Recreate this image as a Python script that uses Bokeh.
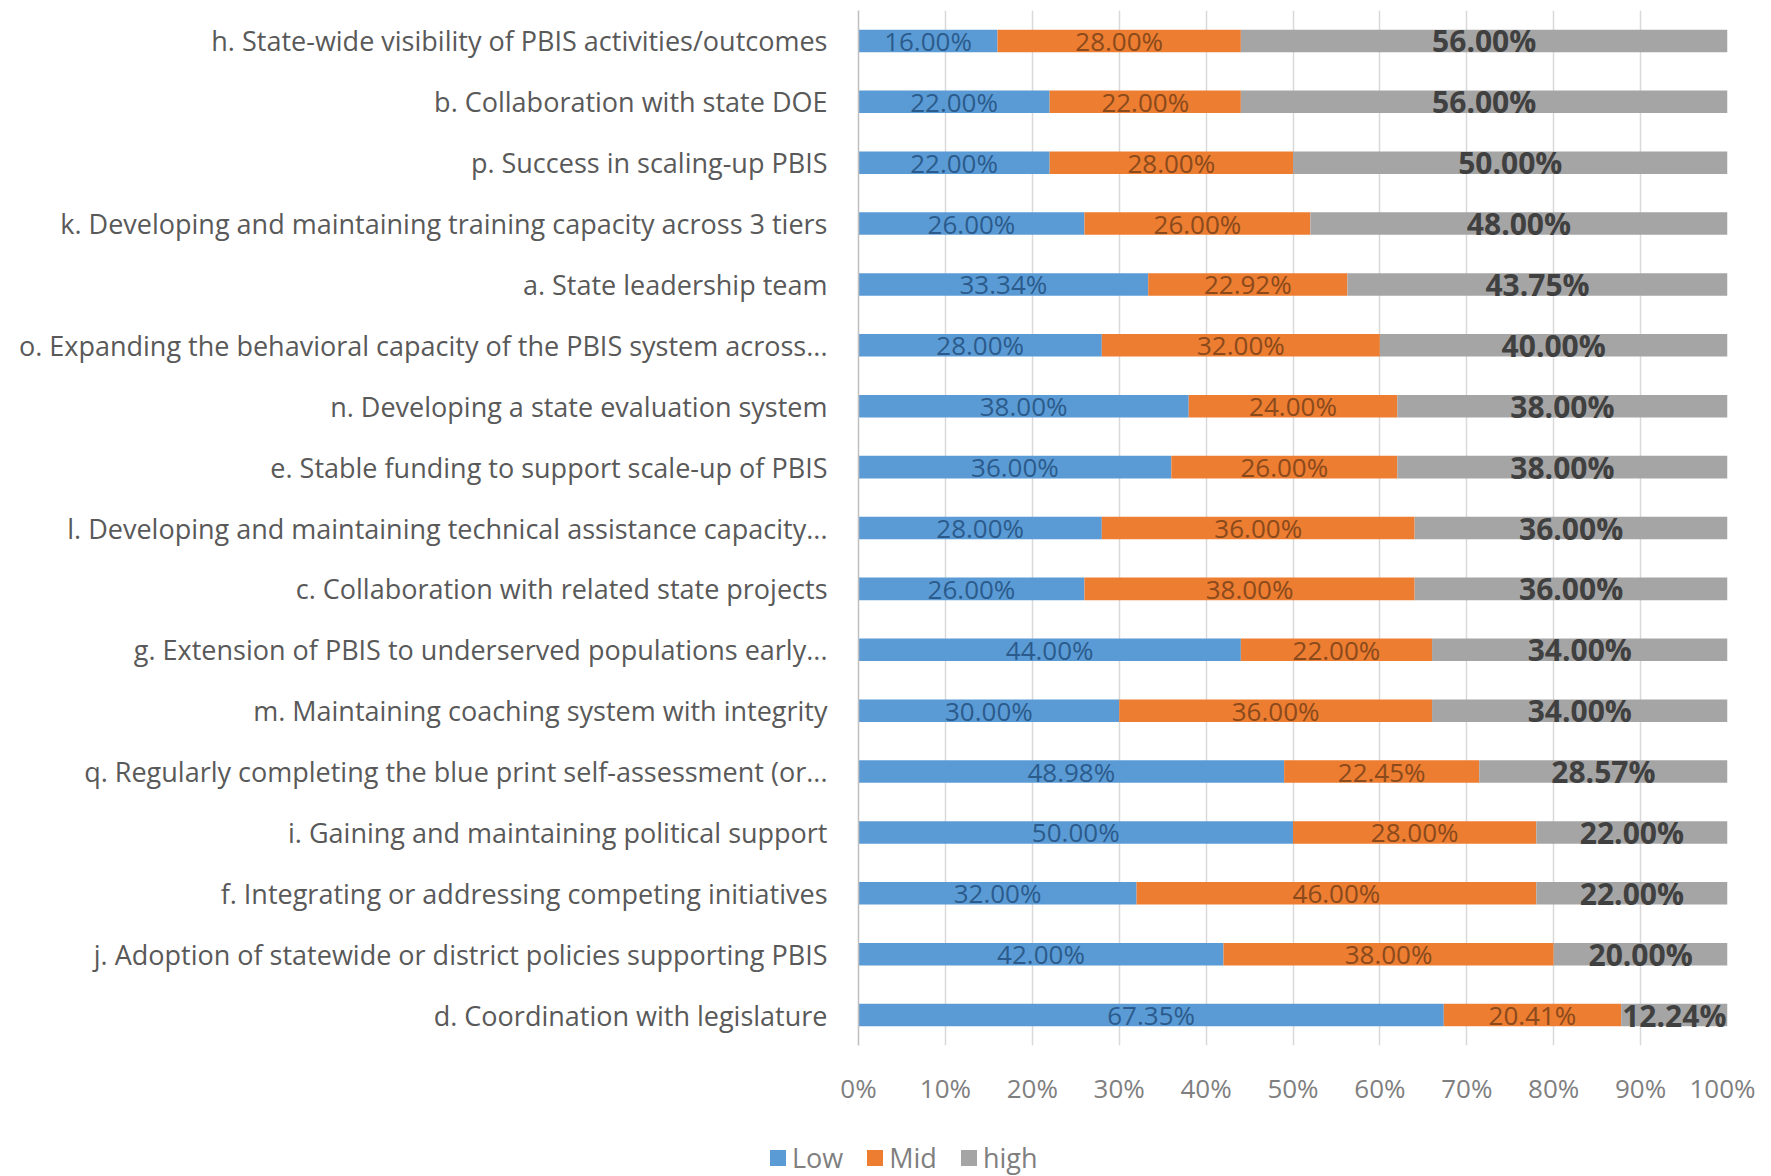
from bokeh.plotting import figure
from bokeh.layouts import column
from bokeh.models import ColumnDataSource, FactorRange, FixedTicker, Div
from bokeh.core.properties import value
from bokeh.embed import file_html
from bokeh.resources import INLINE

categories = [
    "h. State-wide visibility of PBIS activities/outcomes",
    "b. Collaboration with state DOE",
    "p. Success in scaling-up PBIS",
    "k. Developing and maintaining training capacity across 3 tiers",
    "a. State leadership team",
    "o. Expanding the behavioral capacity of the PBIS system across...",
    "n. Developing a state evaluation system",
    "e. Stable funding to support scale-up of PBIS",
    "l. Developing and maintaining technical assistance capacity...",
    "c. Collaboration with related state projects",
    "g. Extension of PBIS to underserved populations early...",
    "m. Maintaining coaching system with integrity",
    "q. Regularly completing the blue print self-assessment (or...",
    "i. Gaining and maintaining political support",
    "f. Integrating or addressing competing initiatives",
    "j. Adoption of statewide or district policies supporting PBIS",
    "d. Coordination with legislature",
]
low = [16.00, 22.00, 22.00, 26.00, 33.34, 28.00, 38.00, 36.00, 28.00, 26.00, 44.00, 30.00, 48.98, 50.00, 32.00, 42.00, 67.35]
mid = [28.00, 22.00, 28.00, 26.00, 22.92, 32.00, 24.00, 26.00, 36.00, 38.00, 22.00, 36.00, 22.45, 28.00, 46.00, 38.00, 20.41]
high = [56.00, 56.00, 50.00, 48.00, 43.75, 40.00, 38.00, 38.00, 36.00, 36.00, 34.00, 34.00, 28.57, 22.00, 22.00, 20.00, 12.24]
series = ["Low", "Mid", "high"]
x_ticks = [0, 10, 20, 30, 40, 50, 60, 70, 80, 90, 100]
x_tick_labels = ["0%", "10%", "20%", "30%", "40%", "50%", "60%", "70%", "80%", "90%", "100%"]

colors = ["#5b9bd5", "#ed7d31", "#a5a5a5"]
FONT = "Open Sans"

W = 1755
FRAME_LEFT = 858
p = figure(
    width=W, height=1108, output_backend="svg", toolbar_location=None,
    y_range=FactorRange(*reversed(categories), range_padding=0),
    x_range=(0, 100),
    min_border_left=FRAME_LEFT, min_border_right=W - 1727, min_border_top=10, min_border_bottom=58,
)
p.outline_line_color = None

src = ColumnDataSource(dict(cat=categories, Low=low, Mid=mid, high=high))
rends = p.hbar_stack(series, y="cat", height=0.37, color=colors, source=src, line_color=None)

# data labels at segment centres
l1 = list(low)
l2 = [a + b for a, b in zip(low, mid)]
cx_low = [v / 2 for v in low]
cx_mid = [s + v / 2 for s, v in zip(l1, mid)]
cx_high = [s + v / 2 for s, v in zip(l2, high)]
lab = lambda vals: ["%.2f%%" % v for v in vals]
lsrc = ColumnDataSource(dict(cat=categories, xl=cx_low, xm=cx_mid, xh=cx_high,
                             tl=lab(low), tm=lab(mid), th=lab(high)))
p.text(x="xl", y="cat", text="tl", source=lsrc, text_align="center", text_baseline="middle",
       text_font=value(FONT), text_font_size="26px", text_color="#2b5b8c")
p.text(x="xm", y="cat", text="tm", source=lsrc, text_align="center", text_baseline="middle",
       text_font=value(FONT), text_font_size="26px", text_color="#8a4a1c")
p.text(x="xh", y="cat", text="th", source=lsrc, text_align="center", text_baseline="middle",
       text_font=value(FONT), text_font_size="30px", text_font_style="bold", text_color="#404040")

# axes
p.xaxis.ticker = FixedTicker(ticks=x_ticks)
p.xaxis.major_label_overrides = {t: s for t, s in zip(x_ticks, x_tick_labels)}
p.xaxis.axis_line_color = None
p.xaxis.major_tick_line_color = None
p.xaxis.minor_tick_line_color = None
p.xaxis.major_label_text_font = FONT
p.xaxis.major_label_text_font_size = "26px"
p.xaxis.major_label_text_color = "#7f7f7f"
p.xaxis.major_label_standoff = 18

p.yaxis.axis_line_color = "#bfbfbf"
p.yaxis.axis_line_width = 1.5
p.yaxis.major_tick_line_color = None
p.yaxis.minor_tick_line_color = None
p.yaxis.major_label_text_font = FONT
p.yaxis.major_label_text_font_size = "27px"
p.yaxis.major_label_text_color = "#595959"
p.yaxis.major_label_standoff = 25

p.xgrid.grid_line_color = "#d9d9d9"
p.xgrid.grid_line_width = 1.5
p.ygrid.grid_line_color = None

# legend row below the chart (HTML text)
items_html = "".join(
    '<span style="display:inline-block;width:16px;height:16px;background:%s;'
    'margin-right:6px;vertical-align:middle;"></span>'
    '<span style="vertical-align:middle;margin-right:24px;">%s</span>' % (c, s)
    for s, c in zip(series, colors)
)
legend_div = Div(
    text='<div style="padding-left:765px;padding-top:24px;font-family:\'Open Sans\';'
         'font-size:27px;line-height:36px;color:#7f7f7f;white-space:nowrap;">%s</div>' % items_html,
    width=W, height=60,
)

layout = column(p, legend_div, spacing=0)
open("out.html", "w").write(file_html(layout, INLINE))
